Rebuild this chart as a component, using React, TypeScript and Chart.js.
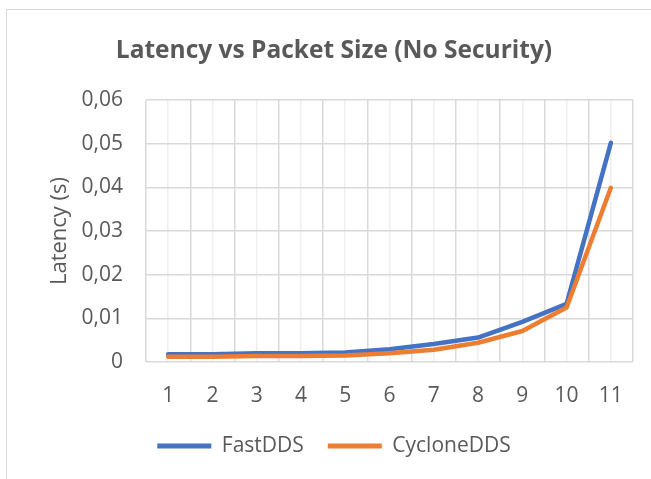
import React, { useEffect, useRef } from "react";
import { Chart, registerables } from "chart.js";

Chart.register(...registerables);

const categories = [1, 2, 3, 4, 5, 6, 7, 8, 9, 10, 11];
const fastDDS = [0.0018, 0.0018, 0.002, 0.002, 0.0022, 0.0029, 0.0041, 0.0056, 0.0092, 0.0133, 0.0502];
const cycloneDDS = [0.0012, 0.0012, 0.0014, 0.0014, 0.0015, 0.002, 0.0028, 0.0044, 0.0071, 0.0125, 0.0399];
const yTickLabels = ["0", "0,01", "0,02", "0,03", "0,04", "0,05", "0,06"];

const FONT = "'Open Sans', 'Noto Sans', sans-serif";
const TEXT = "#595959";
const GRID = "#d9d9d9";
const GRID_LIGHT = "#efefef";
const BLUE = "#4472C4";
const ORANGE = "#ED7D31";

export default function App() {
  const ref = useRef<HTMLCanvasElement | null>(null);
  useEffect(() => {
    if (!ref.current) return;
    const chart = new Chart(ref.current, {
      type: "line",
      data: {
        datasets: [
          {
            label: "FastDDS",
            data: categories.map((c, i) => ({ x: c, y: fastDDS[i] })),
            borderColor: BLUE,
            backgroundColor: BLUE,
            borderWidth: 4.5,
            pointRadius: 0,
            borderCapStyle: "round",
            borderJoinStyle: "round",
            order: 2,
          },
          {
            label: "CycloneDDS",
            data: categories.map((c, i) => ({ x: c, y: cycloneDDS[i] })),
            borderColor: ORANGE,
            backgroundColor: ORANGE,
            borderWidth: 4.5,
            pointRadius: 0,
            borderCapStyle: "round",
            borderJoinStyle: "round",
            order: 1,
          },
        ],
      },
      options: {
        responsive: false,
        animation: false,
        layout: { padding: { left: 17, right: 0, top: 0, bottom: 12.5 } },
        plugins: {
          tooltip: { enabled: false },
          title: {
            display: true,
            text: "Latency vs Packet Size (No Security)",
            color: TEXT,
            font: { family: FONT, size: 24.5, weight: "bold" },
            padding: { top: 36, bottom: 34.6 },
          },
          legend: {
            display: true,
            position: "bottom",
            labels: {
              color: TEXT,
              font: { family: FONT, size: 21 },
              boxWidth: 54,
              boxHeight: 5,
              padding: 24,
              useBorderRadius: true,
              borderRadius: 2.5,
              generateLabels: () => [
                { text: "FastDDS", fillStyle: BLUE, strokeStyle: BLUE, lineWidth: 0, datasetIndex: 0, fontColor: TEXT } as any,
                { text: "CycloneDDS", fillStyle: ORANGE, strokeStyle: ORANGE, lineWidth: 0, datasetIndex: 1, fontColor: TEXT } as any,
              ],
            },
          },
        },
        scales: {
          x: {
            type: "linear",
            min: 0.5,
            max: 11.5,
            offset: false,
            grid: {
              color: (ctx: any) => (Number.isInteger(ctx.tick?.value) ? GRID_LIGHT : GRID),
              lineWidth: 1.5,
              drawTicks: false,
            },
            border: { display: false },
            ticks: {
              stepSize: 0.5,
              autoSkip: false,
              maxRotation: 0,
              color: TEXT,
              font: { family: FONT, size: 21 },
              padding: 21,
              callback: (v: any) => {
                const n = Number(v);
                const idx = categories.indexOf(n);
                return idx >= 0 ? String(categories[idx]) : "";
              },
            },
            afterFit: (s: any) => {
              s.height = 49.5;
              s.paddingLeft = 0;
              s.paddingRight = 0;
            },
          },
          y: {
            min: 0,
            max: 0.06,
            position: "left",
            grid: { color: GRID, lineWidth: 1.5, drawTicks: false },
            border: { display: false },
            ticks: {
              stepSize: 0.01,
              color: TEXT,
              font: { family: FONT, size: 21 },
              padding: 23,
              callback: (_v: any, i: number) => yTickLabels[i] ?? "",
            },
            title: {
              display: true,
              text: "Latency (s)",
              color: TEXT,
              font: { family: FONT, size: 22 },
              padding: { top: 29.8, bottom: 0 },
            },
            afterFit: (s: any) => {
              s.width = 129;
            },
          },
          yR: {
            type: "linear",
            position: "right",
            display: true,
            grid: { display: false },
            border: { display: false },
            ticks: { display: false },
            afterFit: (s: any) => {
              s.width = 18;
            },
          },
        },
      },
    });
    return () => chart.destroy();
  }, []);

  return (
    <div style={{ position: "absolute", left: 0, top: 0, width: 651, height: 479, background: "#fff", overflow: "hidden" }}>
      <div
        style={{
          position: "absolute",
          left: 6,
          top: 9,
          width: 700,
          height: 600,
          borderLeft: `1.5px solid ${GRID}`,
          borderTop: `1.5px solid ${GRID}`,
        }}
      />
      <canvas ref={ref} width={651} height={479} style={{ position: "absolute", left: 0, top: 0 }} />
    </div>
  );
}
